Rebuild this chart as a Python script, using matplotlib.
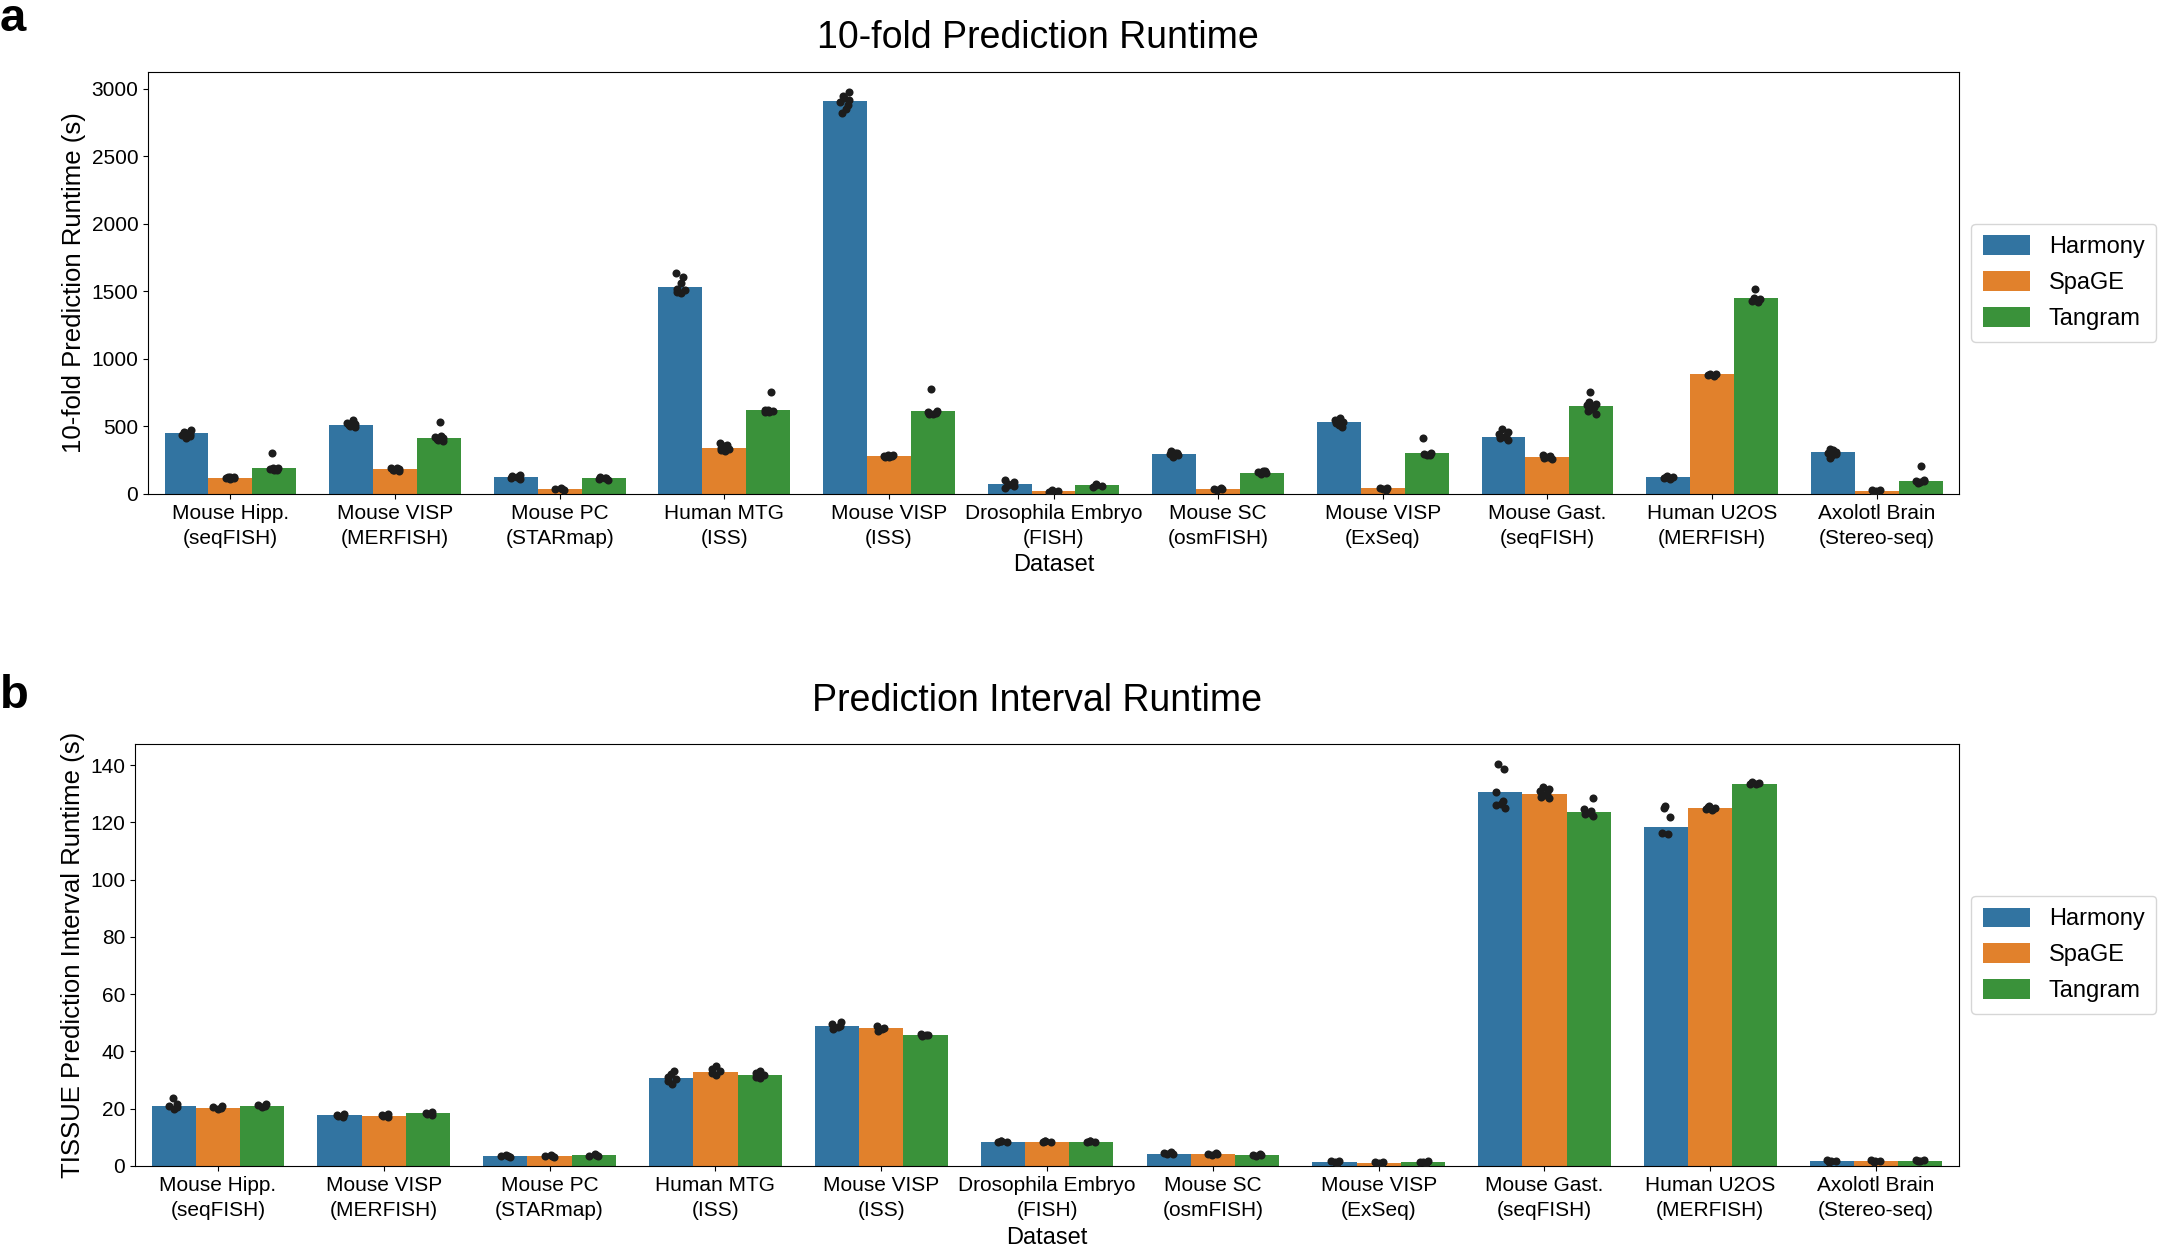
import numpy as np
import matplotlib
matplotlib.use("Agg")
import matplotlib.pyplot as plt
from matplotlib.ticker import MultipleLocator

plt.rcParams['font.family'] = ['Liberation Sans', 'DejaVu Sans']

categories = ['Mouse Hipp.\n(seqFISH)', 'Mouse VISP\n(MERFISH)', 'Mouse PC\n(STARmap)',
              'Human MTG\n(ISS)', 'Mouse VISP\n(ISS)', 'Drosophila Embryo\n(FISH)',
              'Mouse SC\n(osmFISH)', 'Mouse VISP\n(ExSeq)', 'Mouse Gast.\n(seqFISH)',
              'Human U2OS\n(MERFISH)', 'Axolotl Brain\n(Stereo-seq)']
methods = ['Harmony', 'SpaGE', 'Tangram']
colors = ['#3274a1', '#e1812c', '#3a923a']

# panel a: 10-fold prediction runtime (bar = mean, points = folds)
kfold_harmony = [447, 513, 127, 1535, 2910, 71, 294, 532, 423, 122, 307]
kfold_spage = [119, 183, 37, 336, 280, 20, 37, 40, 275, 884, 24]
kfold_tangram = [190, 415, 114, 624, 611, 63, 156, 299, 653, 1447, 98]

kfold_pts_harmony = [[415, 425, 435, 445, 452, 460, 470], [495, 502, 508, 515, 522, 530, 548],
                     [112, 118, 124, 128, 134, 140], [1490, 1498, 1508, 1520, 1565, 1605, 1632],
                     [2818, 2850, 2880, 2904, 2920, 2935, 2950, 2976], [40, 55, 65, 75, 90, 105],
                     [272, 285, 292, 300, 306, 314], [492, 512, 525, 535, 548, 560],
                     [400, 410, 418, 428, 440, 455, 478], [110, 116, 121, 126, 134],
                     [265, 285, 296, 305, 312, 322, 334]]
kfold_pts_spage = [[110, 114, 118, 121, 125, 128], [170, 175, 180, 185, 190, 194],
                   [28, 32, 36, 40], [315, 322, 330, 340, 352, 362, 374],
                   [270, 274, 278, 282, 286, 290], [14, 18, 21, 25],
                   [28, 33, 37, 42], [30, 35, 40, 45], [260, 266, 272, 278, 284],
                   [874, 879, 884, 889], [16, 21, 25, 30]]
kfold_pts_tangram = [[176, 180, 184, 188, 192, 302], [390, 398, 405, 412, 420, 430, 534],
                     [104, 109, 114, 119, 124], [603, 608, 613, 618, 623, 754],
                     [588, 594, 600, 606, 612, 780], [54, 59, 64, 69],
                     [148, 154, 160, 166, 172], [286, 290, 295, 300, 415],
                     [590, 612, 628, 640, 655, 668, 682, 751],
                     [1418, 1430, 1440, 1450, 1518], [78, 86, 92, 97, 102, 209]]

# panel b: TISSUE prediction interval runtime
pi_harmony = [21.1, 17.7, 3.5, 30.6, 48.9, 8.5, 4.3, 1.4, 130.5, 118.5, 1.8]
pi_spage = [20.4, 17.6, 3.4, 32.8, 48.1, 8.5, 4.1, 1.2, 130.0, 124.9, 1.8]
pi_tangram = [21.1, 18.4, 3.7, 31.8, 45.8, 8.5, 3.8, 1.4, 123.8, 133.6, 1.9]

pi_pts_harmony = [[20.0, 20.5, 21.0, 21.6, 23.8], [17.1, 17.5, 17.9, 18.3], [3.2, 3.4, 3.6, 3.8],
                  [28.8, 29.6, 30.4, 31.2, 32.2, 33.2], [47.8, 48.4, 49.0, 49.6, 50.3],
                  [8.2, 8.4, 8.6, 8.8], [4.0, 4.3, 4.5, 4.8], [1.1, 1.4, 1.6, 1.9],
                  [125.2, 126.0, 126.6, 127.5, 130.5, 138.6, 140.4],
                  [116.0, 116.4, 122.0, 125.2, 125.7], [1.5, 1.7, 1.9, 2.1]]
pi_pts_spage = [[20.0, 20.3, 20.6, 20.9], [17.2, 17.5, 17.8, 18.0], [3.1, 3.3, 3.5, 3.7],
                [31.8, 32.4, 33.0, 33.8, 34.9], [47.2, 47.7, 48.2, 48.8], [8.2, 8.4, 8.6, 8.8],
                [3.8, 4.0, 4.2, 4.5], [0.9, 1.1, 1.3, 1.5],
                [128.4, 129.0, 129.6, 130.3, 131.0, 131.8, 132.4],
                [124.4, 124.7, 125.0, 125.3, 125.7], [1.5, 1.7, 1.9, 2.1]]
pi_pts_tangram = [[20.5, 20.9, 21.3, 21.8], [17.8, 18.2, 18.6, 19.0], [3.3, 3.6, 3.8, 4.0],
                  [30.6, 31.2, 31.8, 32.4, 33.0], [45.3, 45.6, 45.9, 46.2], [8.2, 8.4, 8.6, 8.8],
                  [3.5, 3.7, 3.9, 4.1], [1.1, 1.3, 1.5, 1.7],
                  [122.3, 122.8, 123.4, 124.0, 124.6, 128.7],
                  [133.3, 133.6, 133.9, 134.2], [1.6, 1.8, 2.0, 2.2]]


def draw_panel(ax, bars, pts, ylabel, step):
    x = np.arange(len(categories))
    w = 0.8 / 3
    top = 0
    for i, (vals, p, c, name) in enumerate(zip(bars, pts, colors, methods)):
        xc = x - 0.8 / 2 + w / 2 + i * w
        ax.bar(xc, vals, width=w, color=c, label=name)
        for j, group in enumerate(p):
            n = len(group)
            off = 0.028 * np.sin(np.arange(n) * 2.4 + j)
            ax.plot(xc[j] + off, group, 'o', color='#1c1c1c', ms=5.8, mew=0, zorder=3)
            top = max(top, max(group))
    ax.set_xlim(-0.5, len(categories) - 0.5)
    ax.set_ylim(0, top * 1.05)
    ax.yaxis.set_major_locator(MultipleLocator(step))
    ax.set_xticks(x)
    ax.set_xticklabels(categories, fontsize=15, linespacing=1.4)
    ax.tick_params(axis='y', labelsize=15)
    ax.set_xlabel('Dataset', fontsize=17, labelpad=5)
    ax.set_ylabel(ylabel, fontsize=18.5)
    ax.legend(loc='center left', bbox_to_anchor=(1.0, 0.5), fontsize=17,
              handlelength=2.0, handleheight=0.9, labelspacing=0.55, borderpad=0.5)


fig = plt.figure(figsize=(21.68, 12.47), dpi=100)
ax1 = fig.add_axes([0.0683, 0.604, 0.8353, 0.3383])
ax2 = fig.add_axes([0.0623, 0.065, 0.8413, 0.3384])

draw_panel(ax1, [kfold_harmony, kfold_spage, kfold_tangram],
           [kfold_pts_harmony, kfold_pts_spage, kfold_pts_tangram],
           '10-fold Prediction Runtime (s)', 500)
draw_panel(ax2, [pi_harmony, pi_spage, pi_tangram],
           [pi_pts_harmony, pi_pts_spage, pi_pts_tangram],
           'TISSUE Prediction Interval Runtime (s)', 20)

fig.text(0.4785, 0.9615, '10-fold Prediction Runtime', fontsize=27, ha='center', va='baseline')
fig.text(0.4785, 0.4302, 'Prediction Interval Runtime', fontsize=27, ha='center', va='baseline')
fig.text(0.0, 0.975, 'a', fontsize=34, fontweight='bold', ha='left', va='baseline')
fig.text(0.0, 0.432, 'b', fontsize=34, fontweight='bold', ha='left', va='baseline')

fig.savefig('out.png', dpi=100)
